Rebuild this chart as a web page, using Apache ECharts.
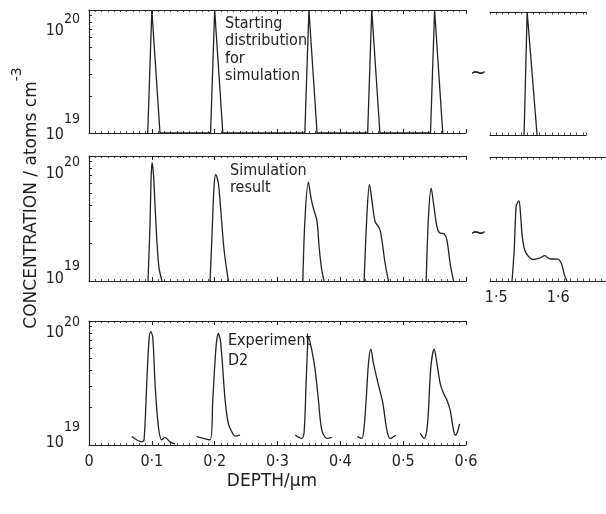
<!DOCTYPE html>
<html>
<head>
<meta charset="utf-8">
<script src="https://cdn.jsdelivr.net/npm/echarts@6/dist/echarts.min.js"></script>
<style>
html, body { margin: 0; padding: 0; background: #fff; }
#chart { width: 606px; height: 514px; }
</style>
</head>
<body>
<div id="chart"></div>
<script>
// concentrations below are in units of 1e19 atoms cm^-3
const unit = 1e19

const depthTicks = ['0', '0·1', '0·2', '0·3', '0·4', '0·5', '0·6']
const tailTicks = ['1·5', '1·6']
const concTicks = [1, 2, 3, 4, 5, 6, 7, 8, 9, 10]

// starting distribution for simulation
const startDepth = [0.0935, 0.1, 0.113, 0.1935, 0.2, 0.213, 0.3435, 0.35, 0.363, 0.4435, 0.45, 0.463, 0.5435, 0.55, 0.563]
const startConc = [1, 10, 1, 1, 10, 1, 1, 10, 1, 1, 10, 1, 1, 10, 1]
const startTailDepth = [1.545, 1.55, 1.566]
const startTailConc = [1, 10, 1]

// simulation result, one list per peak
const simDepth = [
    [0.0939, 0.0971, 0.0987, 0.1003, 0.1027, 0.1051, 0.1083, 0.1115, 0.1162],
    [0.1927, 0.1959, 0.1990, 0.2017, 0.2059, 0.2097, 0.2150, 0.2218],
    [0.3403, 0.3439, 0.3492, 0.3530, 0.3572, 0.3626, 0.3667, 0.3705, 0.3742],
    [0.4379, 0.4422, 0.4463, 0.4502, 0.4554, 0.4623, 0.4661, 0.4713, 0.4766],
    [0.5366, 0.5403, 0.5446, 0.5483, 0.5537, 0.5578, 0.5653, 0.5696, 0.5748, 0.5801]
]
const simConc = [
    [1.0, 2.82, 6.31, 8.83, 7.08, 3.98, 2.0, 1.26, 1.0],
    [1.0, 2.42, 5.68, 7.14, 6.05, 3.70, 1.77, 1.0],
    [1.0, 3.27, 6.17, 4.72, 3.80, 3.08, 1.77, 1.22, 1.0],
    [1.0, 3.27, 5.94, 4.45, 2.98, 2.64, 2.13, 1.38, 1.0],
    [1.0, 3.27, 5.52, 4.19, 2.72, 2.43, 2.38, 2.13, 1.38, 1.0]
]
const simTailDepth = [1.5255, 1.5290, 1.5320, 1.5345, 1.5368, 1.5395, 1.5420, 1.5460, 1.5520, 1.5594, 1.5700, 1.5782, 1.5863, 1.5997, 1.6052, 1.6100, 1.6142]
const simTailConc = [1.0, 1.78, 3.98, 4.32, 4.42, 3.31, 2.29, 1.78, 1.58, 1.49, 1.53, 1.60, 1.51, 1.50, 1.38, 1.12, 1.0]

// experiment D2, one list per peak
const expDepth = [
    [0.068, 0.0839, 0.0876, 0.0919, 0.0955, 0.0982, 0.1014, 0.1051, 0.1104, 0.1158, 0.121, 0.129, 0.137],
    [0.1715, 0.1927, 0.197, 0.2022, 0.2059, 0.2097, 0.2166, 0.2218, 0.2272, 0.2325, 0.2404],
    [0.328, 0.3387, 0.3424, 0.3455, 0.3476, 0.3492, 0.3546, 0.3599, 0.3651, 0.3705, 0.3785, 0.3865],
    [0.4272, 0.4342, 0.4379, 0.4411, 0.4448, 0.4486, 0.4527, 0.4607, 0.4677, 0.4740, 0.4793, 0.4884],
    [0.5271, 0.5334, 0.5377, 0.5403, 0.5441, 0.5494, 0.5537, 0.5589, 0.5642, 0.5696, 0.5748, 0.5801, 0.5828, 0.5865, 0.5897]
]
const expConc = [
    [1.17, 1.06, 1.10, 3.14, 7.03, 8.20, 7.46, 3.14, 1.41, 1.10, 1.15, 1.06, 1.02],
    [1.17, 1.10, 2.31, 6.21, 7.94, 6.61, 2.31, 1.48, 1.28, 1.18, 1.20],
    [1.20, 1.13, 1.28, 3.14, 5.83, 7.46, 5.83, 4.03, 2.31, 1.32, 1.13, 1.15],
    [1.17, 1.13, 1.41, 2.31, 4.56, 5.92, 4.56, 3.05, 2.17, 1.32, 1.13, 1.20],
    [1.24, 1.13, 1.32, 1.91, 4.28, 5.92, 4.56, 3.14, 2.61, 2.31, 1.91, 1.32, 1.20, 1.28, 1.48]
]

const ink = '#222'
const font = "'DejaVu Sans Condensed', 'DejaVu Sans', sans-serif"

const pairs = (xs, ys) => xs.map((x, i) => [x, ys[i] * unit])

// 10^n labels: ca / cs = wanted centre of base and exponent, px below the tick, h = line box
function supRich(key, ca, cs, h) {
    let r = {}
    r['a' + key] = { fontSize: 16, lineHeight: h, fontFamily: font, color: ink, verticalAlign: 'top', padding: [ca + h / 2 - 6, 0, 0, 0] }
    r['s' + key] = { fontSize: 14, lineHeight: h, fontFamily: font, color: ink, verticalAlign: 'top', padding: [cs + h / 2 - 6, 0, 0, 0] }
    return r
}

const lineAxis = { show: true, onZero: false, lineStyle: { color: ink, width: 1.2 } }

function depthAxis(grid, pos, labels) {
    return {
        type: 'value', gridIndex: grid, position: pos, min: 0, max: 0.6, interval: 0.1,
        axisLine: lineAxis,
        axisTick: { show: true, inside: true, length: 4, lineStyle: { color: ink, width: 1 } },
        minorTick: { show: true, splitNumber: 10, length: 2, lineStyle: { color: ink, width: 0.8 } },
        splitLine: { show: false },
        axisLabel: {
            show: labels, margin: 9, fontSize: 16, color: ink, fontFamily: font,
            formatter: v => depthTicks[Math.round(v * 10)]
        }
    }
}

function tailAxis(grid, pos, max, labels) {
    return {
        type: 'value', gridIndex: grid, position: pos, min: 1.49, max: max, interval: 0.01,
        axisLine: lineAxis,
        axisTick: { show: true, inside: true, length: 2.5, lineStyle: { color: ink, width: 0.8 } },
        splitLine: { show: false },
        axisLabel: {
            show: labels, margin: 9, fontSize: 16, color: ink, fontFamily: font,
            customValues: [1.5, 1.6],
            formatter: v => {
                const k = (v - 1.5) * 10
                return Math.abs(k - Math.round(k)) < 1e-6 ? tailTicks[Math.round(k)] : ''
            }
        }
    }
}

function concAxis(grid, offs) {
    const rich = Object.assign({}, supRich('t', offs[0], offs[1], 20), supRich('b', offs[2], offs[3], 50))
    return {
        type: 'log', logBase: 10, gridIndex: grid, min: unit, max: 10 * unit,
        axisLine: lineAxis,
        axisTick: { show: true, inside: true, length: 3, customValues: concTicks.map(v => v * unit), lineStyle: { color: ink, width: 1 } },
        splitLine: { show: false },
        axisLabel: {
            margin: 9, customValues: [unit, 10 * unit], rich: rich,
            formatter: v => v > 5 * unit ? '{at|10}{st|20}' : '{ab|10}{sb|19}'
        }
    }
}

function hiddenConc(grid) {
    return { type: 'log', logBase: 10, gridIndex: grid, min: unit, max: 10 * unit, show: false }
}

const lineStyle = { color: ink, width: 1.3 }
function curve(xIdx, data, smooth) {
    return {
        type: 'line', xAxisIndex: xIdx, yAxisIndex: xIdx / 2, data: data,
        symbol: 'none', smooth: smooth, lineStyle: lineStyle, clip: true, silent: true
    }
}

let series = [curve(0, pairs(startDepth, startConc), false), curve(6, pairs(startTailDepth, startTailConc), false)]
simDepth.forEach((d, i) => series.push(curve(2, pairs(d, simConc[i]), 0.3)))
series.push(curve(8, pairs(simTailDepth, simTailConc), 0.3))
expDepth.forEach((d, i) => series.push(curve(4, pairs(d, expConc[i]), 0.3)))

function label(x, y, text, size, lh) {
    return {
        type: 'text', x: x, y: y, silent: true,
        style: { text: text, fontSize: size, lineHeight: lh, fontFamily: font, fill: ink, verticalAlign: 'top' }
    }
}

function panel(left, top, width, height) {
    return { left: left, top: top, width: width, height: height, containLabel: false, outerBoundsMode: 'none' }
}

let options = {
    animation: false,
    backgroundColor: '#fff',
    grid: [
        panel(89, 10, 377, 123),
        panel(89, 156, 377, 125),
        panel(89, 321, 377, 124),
        panel(490, 12, 96, 123),
        panel(490, 157, 116, 124)
    ],
    xAxis: [
        depthAxis(0, 'bottom', false), depthAxis(0, 'top', false),
        depthAxis(1, 'bottom', false), depthAxis(1, 'top', false),
        depthAxis(2, 'bottom', true), depthAxis(2, 'top', false),
        tailAxis(3, 'bottom', 1.645, false), tailAxis(3, 'top', 1.645, false),
        tailAxis(4, 'bottom', 1.677, true), tailAxis(4, 'top', 1.677, false)
    ],
    yAxis: [
        concAxis(0, [19, 8, 0, -15]),
        concAxis(1, [16, 5, -4, -16]),
        concAxis(2, [10, 0, -4, -19]),
        hiddenConc(3),
        hiddenConc(4)
    ],
    series: series,
    graphic: [
        label(225, 15, 'Starting\ndistribution\nfor\nsimulation', 16, 17.5),
        label(230, 162, 'Simulation\nresult', 16, 17),
        label(228, 331, 'Experiment\nD2', 16, 20),
        label(470, 62, '~', 22, 22),
        label(470, 222, '~', 22, 22),
        {
            type: 'text', x: 272, y: 482, silent: true,
            style: { text: 'DEPTH/µm', fontSize: 17, fontFamily: 'DejaVu Sans', fill: ink, align: 'center', verticalAlign: 'middle' }
        },
        {
            type: 'text', x: 30, y: 198, rotation: Math.PI / 2, silent: true,
            style: {
                text: '{t|CONCENTRATION / atoms cm}{u|-3}', align: 'center', verticalAlign: 'middle',
                rich: {
                    t: { fontSize: 17, lineHeight: 40, fontFamily: 'DejaVu Sans', fill: ink, verticalAlign: 'top', padding: [13, 0, 0, 0] },
                    u: { fontSize: 14, lineHeight: 40, fontFamily: 'DejaVu Sans', fill: ink, verticalAlign: 'top', padding: [0, 0, 0, 0] }
                }
            }
        }
    ]
}

let mychart = echarts.init(document.getElementById('chart'))
mychart.setOption(options)
window.addEventListener('resize', () => { mychart.resize() })
</script>
</body>
</html>
